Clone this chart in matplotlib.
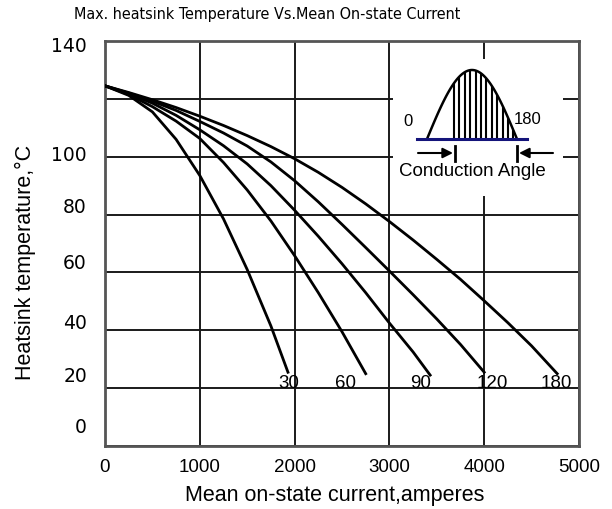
"""Max. heatsink temperature vs. mean on-state current (thyristor datasheet curve)."""

import numpy as np
import matplotlib

matplotlib.use("Agg")
import matplotlib.pyplot as plt  # noqa: E402
from matplotlib import font_manager  # noqa: E402

# curves, one per conduction angle (deg)
angles = ["30", "60", "90", "120", "180"]

cur_30 = [0, 250, 500, 750, 1000, 1250, 1500, 1750, 1930]
temp_30 = [124.5, 121.2, 115.5, 106, 93.5, 78.5, 61, 41.5, 25.5]

cur_60 = [0, 250, 500, 750, 1000, 1250, 1500, 1750, 2000, 2250, 2500, 2750]
temp_60 = [124.5, 121.5, 117.3, 112.3, 106.3, 98, 88.5, 77.8, 65.8, 53,
           39.5, 25]

cur_90 = [0, 250, 500, 750, 1000, 1250, 1500, 1750, 2000, 2250, 2500,
          2750, 3000, 3250, 3430]
temp_90 = [124.5, 121.8, 118.5, 114.3, 109.3, 103.8, 97.5, 90, 81.5, 72.5,
           63, 53, 42.5, 32.5, 24.5]

cur_120 = [0, 250, 500, 750, 1000, 1250, 1500, 1750, 2000, 2250, 2500,
           2750, 3000, 3250, 3500, 3750, 4000]
temp_120 = [124.5, 122, 119.2, 116, 112.2, 108.2, 103.7, 98.2, 91.7, 84.4,
            76.6, 68.6, 60.5, 52.3, 43.9, 35.1, 25.5]

cur_180 = [0, 250, 500, 750, 1000, 1250, 1500, 1750, 2000, 2250, 2500,
           2750, 3000, 3250, 3500, 3750, 4000, 4250, 4500, 4770]
temp_180 = [124.5, 122.2, 119.7, 117, 114, 110.8, 107.3, 103.5, 99.3, 94.6,
            89.4, 83.7, 77.6, 71.2, 64.5, 57.6, 50.2, 42.6, 34.6, 25]

curves = [(cur_30, temp_30), (cur_60, temp_60), (cur_90, temp_90),
          (cur_120, temp_120), (cur_180, temp_180)]

x_ticks = [0, 1000, 2000, 3000, 4000, 5000]
y_grid = [0, 20, 40, 60, 80, 100, 120, 140]
y_labels = ["140", "100", "80", "60", "40", "20", "0"]

# layout: where the original drew its labels (slightly off the grid)
y_label_pos = [138.5, 100.9, 82.9, 63.6, 42.6, 24.2, 6.6]
angle_label_x = [1937, 2537, 3326, 4084, 4758]
angle_label_y = 22

fonts = font_manager.fontManager.ttflist
if any(f.name == "Liberation Sans Narrow" for f in fonts):
    title_kw = dict(family="Liberation Sans Narrow", fontsize=13.5)
elif any(f.name == "DejaVu Sans" and f.stretch == "condensed" for f in fonts):
    title_kw = dict(family="DejaVu Sans", fontstretch="condensed",
                    fontsize=11.5)
else:
    title_kw = dict(family="Liberation Sans", fontsize=11.2)

plt.rcParams["font.family"] = ["Liberation Sans", "DejaVu Sans"]

W, H = 612, 510
fig = plt.figure(figsize=(W / 100, H / 100), dpi=100)
ax = fig.add_axes([105 / W, 1 - 447 / H, 474 / W, 405 / H])
ax.set_xlim(0, 5000)
ax.set_ylim(0, 140)

ax.set_xticks(x_ticks)
ax.set_yticks(y_grid)
ax.set_yticklabels([])
ax.tick_params(length=0, labelsize=13.5, pad=9)
ax.grid(True, color="#1a1a1a", linewidth=1.4, zorder=1)
ax.set_axisbelow(True)
for s in ax.spines.values():
    s.set_color("#555555")
    s.set_linewidth(2)

for cur, temp in curves:
    ax.plot(cur, temp, color="black", linewidth=2.0, zorder=3,
            solid_joinstyle="round")

for lab, lx in zip(angles, angle_label_x):
    ax.text(lx, angle_label_y, lab, ha="center", va="center", fontsize=13.5,
            zorder=4)

for lab, ly in zip(y_labels, y_label_pos):
    ax.text(-0.038, ly, lab, transform=ax.get_yaxis_transform(),
            ha="right", va="center", fontsize=13.5, family="DejaVu Sans")

fig.text(267 / W, 1 - 15 / H,
         "Max. heatsink Temperature Vs.Mean On-state Current",
         ha="center", va="center", **title_kw)
fig.text(335 / W, 1 - 496 / H, "Mean on-state current,amperes",
         ha="center", va="center", fontsize=15.5)
fig.text(25 / W, 1 - 262 / H, "Heatsink temperature,°C", rotation=90,
         ha="center", va="center", fontsize=15.5)

# inset sketch of the conduction angle, drawn in pixel coordinates
ins = fig.add_axes([393 / W, 1 - 197 / H, 170 / W, 137 / H], zorder=5)
ins.set_xlim(393, 563)
ins.set_ylim(197, 60)
ins.set_xticks([])
ins.set_yticks([])
for s in ins.spines.values():
    s.set_visible(False)
ins.set_facecolor("white")

hx = np.linspace(427, 517, 80)
hy = 140 - 69 * np.sin(np.pi * (hx - 427) / 90)
ins.plot(hx, hy, color="black", linewidth=1.8)
vx = np.arange(454, 516, 5.4)
ins.vlines(vx, 140, 140 - 69 * np.sin(np.pi * (vx - 427) / 90),
           color="black", linewidth=1.5)
ins.plot([417, 527], [140, 140], color="#14147a", linewidth=2.2)
ins.text(408, 122, "0", ha="center", va="center", fontsize=12)
ins.text(528, 120, "180", ha="center", va="center", fontsize=12)

arrow = dict(arrowstyle="-|>", color="black", lw=1.5, mutation_scale=15,
             shrinkA=0, shrinkB=0)
ins.annotate("", xy=(453, 154), xytext=(418, 154), arrowprops=arrow)
ins.annotate("", xy=(519, 154), xytext=(553, 154), arrowprops=arrow)
ins.plot([455, 455], [147, 162], color="black", linewidth=2)
ins.plot([517, 517], [147, 162], color="black", linewidth=2)
ins.text(472, 172, "Conduction Angle", ha="center", va="center",
         fontsize=13.5)

fig.savefig("out.png", dpi=100)
